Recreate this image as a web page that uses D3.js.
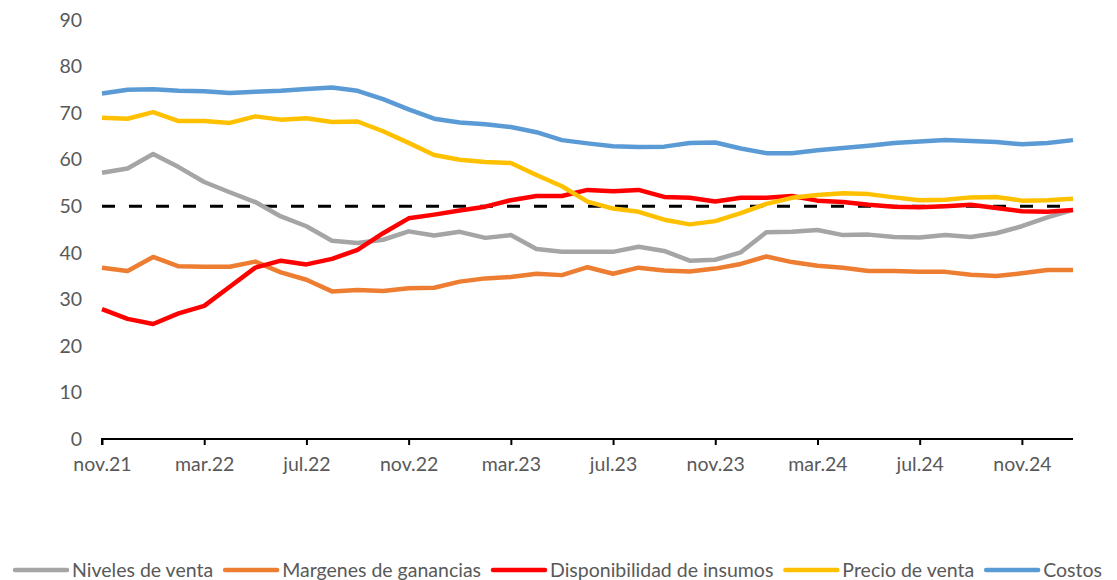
<!DOCTYPE html>
<html>
<head>
<meta charset="utf-8">
<script src="https://cdn.jsdelivr.net/npm/d3@7"></script>
<style>
  body { margin: 0; background: #fff; }
  text { font-family: Lato, "Open Sans", sans-serif; fill: #595959; }
</style>
</head>
<body>
<svg class="chart"></svg>
<script>
let w = 1117;
let h = 580;

// months nov.21 .. jan.25
let months = ["nov.21","dic.21","ene.22","feb.22","mar.22","abr.22","may.22","jun.22","jul.22","ago.22","sep.22","oct.22",
              "nov.22","dic.22","ene.23","feb.23","mar.23","abr.23","may.23","jun.23","jul.23","ago.23","sep.23","oct.23",
              "nov.23","dic.23","ene.24","feb.24","mar.24","abr.24","may.24","jun.24","jul.24","ago.24","sep.24","oct.24",
              "nov.24","dic.24","ene.25"];

let niveles = [57.2,58.1,61.2,58.4,55.2,53.0,50.9,47.8,45.7,42.6,42.1,42.8,44.6,43.7,44.5,43.2,43.8,40.8,40.2,40.2,
               40.2,41.3,40.4,38.3,38.5,40.1,44.4,44.5,44.9,43.8,43.9,43.4,43.3,43.8,43.4,44.2,45.7,47.6,49.2];
let margenes = [36.8,36.1,39.1,37.1,37.0,37.0,38.1,35.8,34.2,31.7,32.0,31.8,32.4,32.5,33.8,34.5,34.8,35.5,35.2,36.9,
                35.5,36.8,36.2,36.0,36.6,37.6,39.2,38.0,37.2,36.8,36.1,36.1,35.9,35.9,35.3,35.0,35.6,36.3,36.3];
let insumos = [27.9,25.8,24.7,27.0,28.6,32.7,36.8,38.3,37.5,38.7,40.6,44.2,47.4,48.2,49.1,49.9,51.3,52.2,52.2,53.5,
               53.2,53.5,52.0,51.8,51.0,51.8,51.8,52.2,51.2,50.9,50.3,49.9,49.8,50.0,50.3,49.6,48.9,48.8,49.2];
let precio = [69.0,68.8,70.2,68.3,68.3,67.9,69.3,68.6,68.9,68.1,68.2,66.1,63.6,61.0,60.0,59.5,59.3,56.7,54.3,51.0,
              49.5,48.8,47.1,46.1,46.8,48.5,50.5,51.8,52.4,52.8,52.6,51.9,51.3,51.4,51.9,52.0,51.2,51.3,51.6];
let costos = [74.2,75.0,75.1,74.8,74.7,74.3,74.6,74.8,75.2,75.5,74.8,73.0,70.8,68.8,68.0,67.6,67.0,65.9,64.2,63.5,
              62.9,62.7,62.8,63.6,63.7,62.4,61.4,61.4,62.0,62.5,63.0,63.6,63.9,64.2,64.0,63.8,63.3,63.6,64.2];
let umbral = 50;

let seriesNames = ["Niveles de venta","Margenes de ganancias","Disponibilidad de insumos","Precio de venta","Costos"];
let seriesData = [niveles, margenes, insumos, precio, costos];
let colors = ["#A5A5A5","#ED7D31","#FF0000","#FFC000","#5B9BD5"];
let yTicks = [0,10,20,30,40,50,60,70,80,90];

let fontSize = "19.5px";

var xS = d3.scaleLinear().domain([0, months.length - 1]).range([102, 1073]);
var yS = d3.scaleLinear().domain([0, 90]).range([439, 20]);

var svg = d3.select(".chart").attr("width", w).attr("height", h);

// y labels (no axis line)
svg.append("g")
   .selectAll("text")
   .data(yTicks)
   .enter().append("text")
   .attr("x", 82)
   .attr("y", d => yS(d))
   .attr("dy", "0.35em")
   .attr("text-anchor", "end")
   .attr("font-size", fontSize)
   .text(d => d);

// threshold dashed line
svg.append("line")
   .attr("x1", xS(0)).attr("x2", xS(months.length - 1))
   .attr("y1", yS(umbral)).attr("y2", yS(umbral))
   .attr("stroke", "#000")
   .attr("stroke-width", 3)
   .attr("stroke-dasharray", "13,14");

var line = d3.line().x((d, i) => xS(i)).y(d => yS(d));

svg.append("g")
   .selectAll("path")
   .data(seriesData)
   .enter().append("path")
   .attr("d", d => line(d))
   .attr("fill", "none")
   .attr("stroke", (d, i) => colors[i])
   .attr("stroke-width", 4.5)
   .attr("stroke-linejoin", "round");

// x axis
var tickIdx = d3.range(0, months.length, 4);
var xAxis = svg.append("g")
   .attr("transform", "translate(0," + yS(0) + ")")
   .call(d3.axisBottom(xS).tickValues(tickIdx).tickFormat(i => months[i]).tickSizeOuter(0).tickSize(6).tickPadding(12));
xAxis.select(".domain").attr("stroke", "#000").attr("stroke-width", 2).attr("d", "M" + xS(0) + ",6V0H" + xS(months.length - 1));
xAxis.selectAll(".tick line").attr("stroke", "#000").attr("stroke-width", 2);
xAxis.selectAll(".tick text").attr("font-size", fontSize).attr("fill", "#595959").style("font-family", "Lato, sans-serif");

// legend
var legend = svg.append("g").attr("transform", "translate(0,570)");
var items = legend.selectAll("g").data(seriesNames).enter().append("g");
items.append("line")
   .attr("x1", 0).attr("x2", 52)
   .attr("stroke", (d, i) => colors[i])
   .attr("stroke-width", 4.5)
   .attr("stroke-linecap", "round");
items.append("text")
   .attr("x", 57)
   .attr("dy", "0.35em")
   .attr("font-size", fontSize)
   .text(d => d);
var pos = 0, offs = [];
items.each(function() {
  offs.push(pos);
  pos += 57 + d3.select(this).select("text").node().getComputedTextLength() + 12;
});
pos -= 12;
var start = (w - pos) / 2;
items.attr("transform", (d, i) => "translate(" + (start + offs[i]) + ",0)");
</script>
</body>
</html>
